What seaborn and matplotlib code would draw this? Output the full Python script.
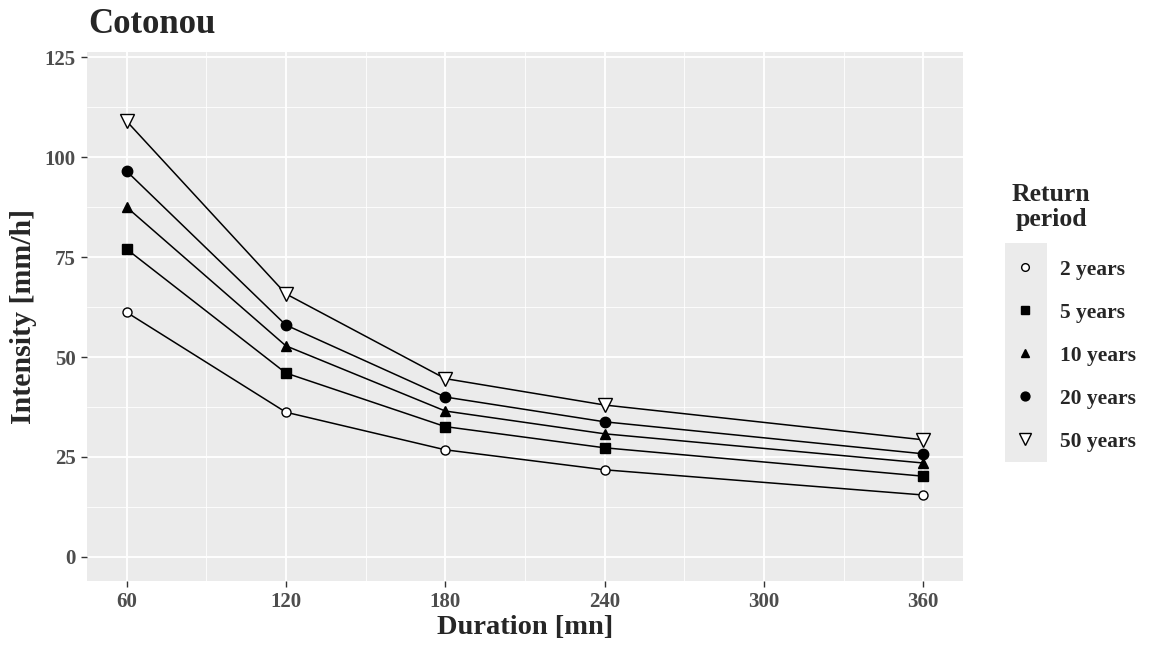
import matplotlib
matplotlib.use("Agg")
import matplotlib.pyplot as plt
from matplotlib.lines import Line2D
from matplotlib.patches import Rectangle
import seaborn as sns
import pandas as pd

# Intensity-duration-frequency values for Cotonou
durations = [60, 120, 180, 240, 360]
periods = ["2 years", "5 years", "10 years", "20 years", "50 years"]
intensity_2 = [61.2, 36.2, 26.8, 21.8, 15.5]
intensity_5 = [77.0, 46.0, 32.6, 27.3, 20.2]
intensity_10 = [87.5, 52.8, 36.5, 30.8, 23.5]
intensity_20 = [96.5, 58.0, 40.0, 33.8, 25.8]
intensity_50 = [109.0, 65.8, 44.6, 38.0, 29.3]
y_ticks = [0, 25, 50, 75, 100, 125]
x_ticks = [60, 120, 180, 240, 300, 360]

series = [intensity_2, intensity_5, intensity_10, intensity_20, intensity_50]
df = pd.DataFrame({
    "duration": durations * len(periods),
    "intensity": sum(series, []),
    "period": [p for p in periods for _ in durations],
})

sns.set_theme(style="darkgrid")
plt.rcParams["font.family"] = ["Liberation Serif", "DejaVu Serif"]
plt.rcParams["font.weight"] = "bold"

# marker, filled?, size
marker_styles = {
    "2 years": ("o", False, 6.5),
    "5 years": ("s", True, 7.5),
    "10 years": ("^", True, 7.5),
    "20 years": ("o", True, 7.5),
    "50 years": ("v", False, 9.5),
}

fig = plt.figure(figsize=(11.51, 6.59), dpi=100)
ax = fig.add_axes([0.0753, 0.1184, 0.8367 - 0.0753, 0.921 - 0.1184])
ax.set_facecolor("#EBEBEB")

for p in periods:
    sub = df[df["period"] == p]
    m, filled, ms = marker_styles[p]
    sns.lineplot(data=sub, x="duration", y="intensity", ax=ax, color="black",
                 linewidth=1.1, marker=m, markersize=ms,
                 markerfacecolor="black" if filled else "white",
                 markeredgecolor="black", markeredgewidth=1.0, zorder=3)

ax.set_xlim(45, 375)
ax.set_ylim(-6, 126.25)
ax.set_xticks(x_ticks)
ax.set_yticks(y_ticks)
ax.set_xticks([90, 150, 210, 270, 330], minor=True)
ax.set_yticks([12.5, 37.5, 62.5, 87.5, 112.5], minor=True)
ax.grid(which="major", color="white", linewidth=1.3)
ax.grid(which="minor", color="white", linewidth=0.6)
for s in ax.spines.values():
    s.set_visible(False)
ax.tick_params(axis="both", which="major", length=4, width=1.0, color="#333333",
               labelsize=15, labelcolor="#4D4D4D", pad=4, bottom=True, left=True)
ax.tick_params(axis="both", which="minor", length=0)
for lab in ax.get_xticklabels() + ax.get_yticklabels():
    lab.set_fontweight("bold")

ax.set_xlabel("Duration [mn]", fontsize=20.5, fontweight="bold", labelpad=2)
ax.set_ylabel("Intensity [mm/h]", fontsize=21.5, fontweight="bold", labelpad=5)
fig.text(0.0765, 0.963, "Cotonou", fontsize=25, fontweight="bold",
         ha="left", va="center")

# Legend: markers only, grey key column, title drawn centered above
handles = []
for p in periods:
    m, filled, ms = marker_styles[p]
    handles.append(Line2D([], [], linestyle="none", marker=m,
                          markersize=ms * 0.85,
                          markerfacecolor="black" if filled else "white",
                          markeredgecolor="black", markeredgewidth=1.0))
fig.patches.append(Rectangle((1005 / 1151, 1 - 462 / 659), 42 / 1151, 219 / 659,
                             transform=fig.transFigure, facecolor="#EBEBEB",
                             edgecolor="none", zorder=0))
fig.text(1051 / 1151, 1 - 207 / 659, "Return\nperiod", fontsize=18.5,
         fontweight="bold", ha="center", va="center", multialignment="center",
         linespacing=1.1)
leg = fig.legend(handles, periods, loc="upper left",
                 bbox_to_anchor=(998 / 1151, 1 - 247 / 659),
                 frameon=False, fontsize=15.5, labelspacing=1.065,
                 handletextpad=1.0, handlelength=1.3, borderpad=0.1)
for t in leg.get_texts():
    t.set_fontweight("bold")

fig.savefig("out.png", dpi=100, facecolor="white")
